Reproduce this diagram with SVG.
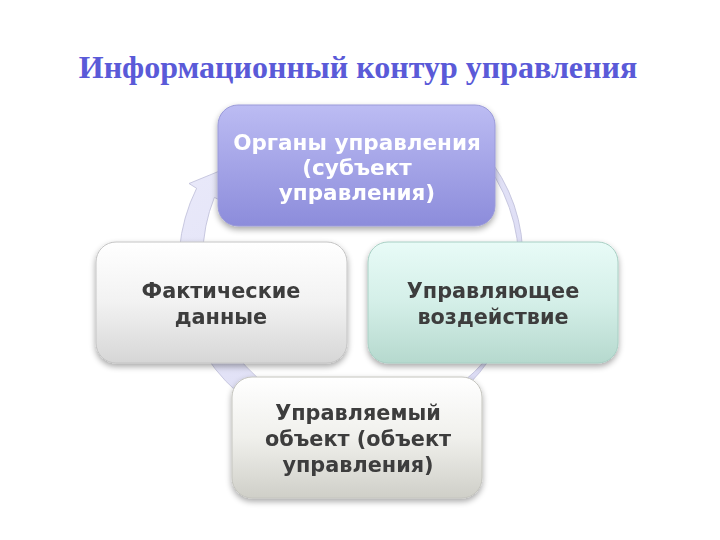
<svg xmlns="http://www.w3.org/2000/svg" width="720" height="540" viewBox="0 0 720 540">
<style>
.title{font-family:"Liberation Serif","Times New Roman",serif;font-weight:bold;font-size:32px;fill:#5a5ad8;text-anchor:middle}
.lbl{font-family:"DejaVu Sans","Liberation Sans",sans-serif;font-weight:bold;font-size:20.8px;text-anchor:middle;fill:#3c3c3c}
.lbl.w{fill:#ffffff;font-size:21.5px}
.box{stroke-width:1}
</style>
<defs>
<linearGradient id="gTop" x1="0" y1="0" x2="0" y2="1">
<stop offset="0" stop-color="#bcbcf3"/><stop offset="1" stop-color="#8c8cdb"/>
</linearGradient>
<linearGradient id="gLeft" x1="0" y1="0" x2="0" y2="1">
<stop offset="0" stop-color="#ffffff"/><stop offset="0.5" stop-color="#f2f2f2"/><stop offset="1" stop-color="#d6d6d6"/>
</linearGradient>
<linearGradient id="gRight" x1="0" y1="0" x2="0" y2="1">
<stop offset="0" stop-color="#e8fbf7"/><stop offset="0.5" stop-color="#d4efe8"/><stop offset="1" stop-color="#b6d9ce"/>
</linearGradient>
<linearGradient id="gBot" x1="0" y1="0" x2="0" y2="1">
<stop offset="0" stop-color="#ffffff"/><stop offset="0.5" stop-color="#f0f0ec"/><stop offset="1" stop-color="#cfcfc8"/>
</linearGradient>
<linearGradient id="gRing" x1="0" y1="0" x2="1" y2="1">
<stop offset="0" stop-color="#eaeafa"/><stop offset="1" stop-color="#d9d9f3"/>
</linearGradient>
<filter id="sh" x="-10%" y="-10%" width="120%" height="130%">
<feGaussianBlur in="SourceAlpha" stdDeviation="3"/>
<feOffset dx="0" dy="3" result="b"/>
<feComponentTransfer><feFuncA type="linear" slope="0.35"/></feComponentTransfer>
<feMerge><feMergeNode/><feMergeNode in="SourceGraphic"/></feMerge>
</filter>
</defs>
<rect width="720" height="540" fill="#ffffff"/>
<text class="title" x="358" y="78">Информационный контур управления</text>
<g id="connectors">
<path d="M 454.5 130.7 A 170 170 0 1 1 196.6 188.3 L 189 183.5 L 222 170 L 221.6 201 L 214.4 197.4 A 160 160 0 1 0 450.6 123.4 Z" fill="url(#gRing)" stroke="#bcbcd8" stroke-width="0.8"/>
</g>
<g id="node-top" filter="url(#sh)">
<rect class="box" x="218" y="105" width="277" height="121" rx="20" fill="url(#gTop)" stroke="#9a9ad8"/>
<text class="lbl w" x="357" y="150">Органы управления</text>
<text class="lbl w" x="357" y="175">(субъект</text>
<text class="lbl w" x="357" y="200">управления)</text>
</g>
<g id="node-left" filter="url(#sh)">
<rect class="box" x="96" y="242" width="251" height="121" rx="20" fill="url(#gLeft)" stroke="#c4c4c4"/>
<text class="lbl" x="221" y="298">Фактические</text>
<text class="lbl" x="221" y="324">данные</text>
</g>
<g id="node-right" filter="url(#sh)">
<rect class="box" x="368" y="242" width="250" height="121" rx="20" fill="url(#gRight)" stroke="#a8cfc4"/>
<text class="lbl" x="493" y="298">Управляющее</text>
<text class="lbl" x="493" y="324">воздействие</text>
</g>
<g id="node-bottom" filter="url(#sh)">
<rect class="box" x="232" y="377" width="250" height="121" rx="20" fill="url(#gBot)" stroke="#c4c4be"/>
<text class="lbl" x="358" y="420">Управляемый</text>
<text class="lbl" x="358" y="446">объект (объект</text>
<text class="lbl" x="358" y="472">управления)</text>
</g>
</svg>
